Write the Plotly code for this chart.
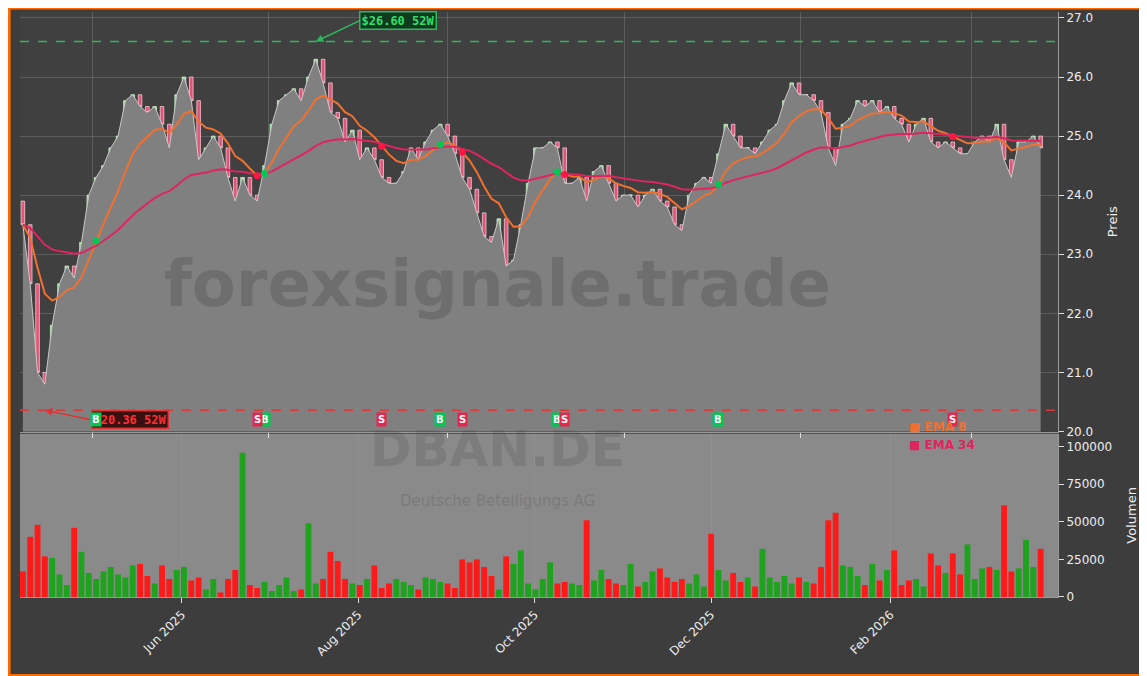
import numpy as np
import pandas as pd
import plotly.graph_objects as go
from plotly.subplots import make_subplots

# --- DATA ---
START, END = "2025-04-07", "2026-03-25"
closes = [23.5, 22.5, 21.0, 20.8, 21.8, 22.5, 22.8, 22.6, 23.2, 24.0, 24.3, 24.5, 24.8, 25.0,
          25.6, 25.7, 25.5, 25.4, 25.5, 25.2, 24.8, 25.7, 26.0, 25.6, 24.6, 24.8, 25.0, 24.8,
          24.3, 23.9, 24.3, 24.0, 23.9, 24.5, 25.2, 25.6, 25.7, 25.8, 25.6, 26.0, 26.3, 25.9,
          25.4, 25.3, 24.9, 25.1, 24.6, 24.8, 24.6, 24.3, 24.2, 24.2, 24.4, 24.8, 24.6, 24.9,
          25.1, 25.2, 25.0, 24.7, 24.3, 24.1, 23.7, 23.3, 23.2, 23.6, 22.8, 22.9, 23.5, 24.2,
          24.8, 24.8, 24.9, 24.8, 24.2, 24.2, 24.3, 23.9, 24.4, 24.5, 24.2, 23.9, 24.0, 24.0,
          23.8, 24.0, 24.1, 23.9, 23.8, 23.5, 23.4, 24.0, 24.2, 24.3, 24.2, 24.7, 25.2, 25.0,
          24.8, 24.8, 24.7, 24.9, 25.1, 25.2, 25.6, 25.9, 25.7, 25.7, 25.6, 25.4, 24.8, 24.5,
          25.2, 25.3, 25.6, 25.5, 25.6, 25.4, 25.5, 25.3, 25.2, 24.9, 25.2, 25.3, 24.9, 24.8,
          24.9, 24.8, 24.7, 24.7, 24.9, 25.0, 24.9, 25.2, 24.6, 24.3, 24.9, 24.9, 25.0, 24.8]
volumes = [17000, 40000, 48000, 27000, 26000, 15000, 8000, 46000, 30000, 16000, 12000, 17000,
           20000, 15000, 13000, 21000, 22000, 14000, 9000, 21000, 12000, 18000, 20000, 11000,
           13000, 5000, 12000, 3000, 12000, 18000, 96000, 8000, 6000, 10000, 4000, 8000,
           13000, 4000, 5000, 49000, 9000, 12000, 30000, 24000, 12000, 9000, 8000, 12000,
           21000, 6000, 9000, 12000, 10000, 8000, 5000, 13000, 12000, 10000, 9000, 6000,
           25000, 23000, 25000, 20000, 14000, 5000, 27000, 22000, 31000, 9000, 5000, 12000,
           23000, 9000, 10000, 9000, 8000, 51000, 11000, 18000, 12000, 9000, 8000, 22000,
           7000, 10000, 17000, 19000, 13000, 10000, 12000, 9000, 15000, 7000, 42000, 18000,
           11000, 16000, 10000, 13000, 7000, 32000, 13000, 10000, 14000, 9000, 13000, 10000,
           9000, 20000, 51000, 56000, 21000, 20000, 14000, 8000, 22000, 11000, 18000, 31000,
           8000, 11000, 12000, 7000, 29000, 21000, 16000, 29000, 15000, 35000, 12000, 19000,
           20000, 18000, 61000, 17000, 19000, 38000, 20000, 32000, 33000, 84000, 21000, 14000,
           16000, 23000, 10000]
volumes = volumes[:len(closes)]
HIGH_52W, LOW_52W = 26.60, 20.36
TITLE, SUBTITLE = "DBAN.DE", "Deutsche Beteiligungs AG"
WATERMARK = "forexsignale.trade"

dates = pd.date_range(START, END, periods=len(closes))
df = pd.DataFrame({"date": dates, "close": closes, "volume": volumes})
df["open"] = df["close"].shift(1).fillna(df["close"].iloc[0] + 0.4)
df["high"] = df[["open", "close"]].max(axis=1)
df["low"] = df[["open", "close"]].min(axis=1)
df["ema8"] = df["close"].ewm(span=8, adjust=False).mean()
df["ema34"] = df["close"].ewm(span=34, adjust=False).mean()
diff = np.sign(df["ema8"] - df["ema34"])
cross = diff.diff().fillna(0)
cross.iloc[:5] = 0  # warm-up period, no signals
buys = df[cross > 0]
sells = df[cross < 0]

GREEN, RED = "#1fa31f", "#ff1a1a"
fig = make_subplots(rows=2, cols=1, shared_xaxes=True, row_heights=[0.72, 0.28],
                    vertical_spacing=0.004)

# volume panel background
fig.add_shape(type="rect", xref="x2 domain", yref="y2 domain", x0=0, x1=1, y0=0, y1=1,
              fillcolor="#8a8a8a", line_width=0, layer="below")

fig.add_trace(go.Scatter(x=df["date"], y=df["close"], fill="tozeroy", mode="lines",
                         line=dict(color="#c8c8c8", width=1), fillcolor="#808080",
                         hoverinfo="skip", showlegend=False), row=1, col=1)
fig.add_trace(go.Candlestick(x=df["date"], open=df["open"], high=df["high"], low=df["low"],
                             close=df["close"], whiskerwidth=0,
                             increasing=dict(line=dict(color="#c8f5c8", width=0.8), fillcolor="#6fd86f"),
                             decreasing=dict(line=dict(color="#f5c8d2", width=0.8), fillcolor="#e0557a"),
                             showlegend=False), row=1, col=1)
fig.add_trace(go.Scatter(x=df["date"], y=df["ema8"], mode="lines", name="EMA 8",
                         line=dict(color="#f07030", width=2), showlegend=False), row=1, col=1)
fig.add_trace(go.Scatter(x=df["date"], y=df["ema34"], mode="lines", name="EMA 34",
                         line=dict(color="#e0245e", width=2), showlegend=False), row=1, col=1)
fig.add_trace(go.Scatter(x=buys["date"], y=buys["ema8"], mode="markers",
                         marker=dict(color="#00c853", size=7), showlegend=False), row=1, col=1)
fig.add_trace(go.Scatter(x=sells["date"], y=sells["ema8"], mode="markers",
                         marker=dict(color="#ff1744", size=7), showlegend=False), row=1, col=1)

vcol = [GREEN if c >= o else RED for c, o in zip(df["close"], df["open"])]
fig.add_trace(go.Bar(x=df["date"], y=df["volume"], marker=dict(color=vcol, line_width=0),
                     showlegend=False), row=2, col=1)

# 52W lines
fig.add_hline(y=HIGH_52W, line=dict(color="#2eb85c", dash="dash", width=1.5), row=1, col=1)
fig.add_hline(y=LOW_52W, line=dict(color="#d43a3a", dash="dash", width=1.5), row=1, col=1)
ih, il = df["close"].idxmax(), df["close"].idxmin()
fig.add_annotation(x=df["date"][ih], y=HIGH_52W, ax=df["date"][ih] + pd.Timedelta(days=15), ay=26.95,
                   axref="x", ayref="y", xref="x", yref="y", text=f"<b>${HIGH_52W:.2f} 52W</b>",
                   showarrow=True, arrowhead=2, arrowcolor="#2eb85c", arrowwidth=1.5,
                   font=dict(color="#2ee06a", size=12, family="DejaVu Sans Mono"),
                   bgcolor="#0f3a1e", bordercolor="#2eb85c", borderwidth=1.5, xanchor="left")
fig.add_annotation(x=df["date"][il], y=LOW_52W, ax=df["date"][il] + pd.Timedelta(days=16), ay=20.2,
                   axref="x", ayref="y", xref="x", yref="y", text=f"<b>${LOW_52W:.2f} 52W</b>",
                   showarrow=True, arrowhead=2, arrowcolor="#e03030", arrowwidth=1.5,
                   font=dict(color="#ff3030", size=12, family="DejaVu Sans Mono"),
                   bgcolor="#3a0f0f", bordercolor="#e03030", borderwidth=1.5, xanchor="left")

for d in buys["date"]:
    fig.add_annotation(x=d, y=20.2, xref="x", yref="y", text="<b>B</b>", showarrow=False,
                       font=dict(color="white", size=10), bgcolor="#00c853", borderpad=1)
for d in sells["date"]:
    fig.add_annotation(x=d, y=20.2, xref="x", yref="y", text="<b>S</b>", showarrow=False,
                       font=dict(color="white", size=10), bgcolor="#e8254f", borderpad=1)

# watermarks
fig.add_annotation(x=0.46, y=0.535, xref="paper", yref="paper", text=f"<b>{WATERMARK}</b>",
                   showarrow=False, font=dict(size=64, color="rgba(70,70,70,0.3)"))
fig.add_annotation(x=0.46, y=0.2, xref="paper", yref="paper", text=f"<b>{TITLE}</b>",
                   showarrow=False, font=dict(size=50, color="rgba(70,70,70,0.2)"))
fig.add_annotation(x=0.46, y=0.145, xref="paper", yref="paper", text=SUBTITLE,
                   showarrow=False, font=dict(size=15, color="rgba(70,70,70,0.25)"))
# legend
fig.add_annotation(x=0.855, y=0.275, xref="paper", yref="paper", text="<b>■ EMA 8</b>",
                   showarrow=False, xanchor="left", font=dict(size=12, color="#f07030"))
fig.add_annotation(x=0.855, y=0.245, xref="paper", yref="paper", text="<b>■ EMA 34</b>",
                   showarrow=False, xanchor="left", font=dict(size=12, color="#e0245e"))

# orange frame
fig.add_shape(type="rect", xref="paper", yref="paper", x0=-0.0105, x1=1.0855, y0=-0.134, y1=1.007,
              line=dict(color="#ff6a00", width=3), fillcolor="rgba(0,0,0,0)")

axis_common = dict(showline=True, linecolor="#9a9a9a", gridcolor="rgba(160,160,160,0.3)",
                   tickcolor="#dddddd", ticks="outside", zeroline=False)
fig.update_xaxes(**axis_common, range=[pd.Timestamp("2025-04-06"), pd.Timestamp("2026-03-31")],
                 rangeslider_visible=False)
fig.update_xaxes(dtick="M2", tick0="2025-06-01", tickformat="%b %Y", tickangle=-45, row=2, col=1)
fig.update_yaxes(**axis_common, side="right", range=[20, 27.1], dtick=1, tickformat=".1f",
                 title=dict(text="Preis", font=dict(size=13)), row=1, col=1)
fig.update_yaxes(**axis_common, side="right", range=[0, 108500], dtick=25000, tickformat="d",
                 showgrid=False, title=dict(text="Volumen", font=dict(size=13)), row=2, col=1)

fig.update_layout(width=1147, height=676, paper_bgcolor="#3d3d3d", plot_bgcolor="#404040",
                  margin=dict(l=12, r=97, t=4, b=87), bargap=0.2,
                  font=dict(family="DejaVu Sans", color="#eeeeee", size=12))
fig.write_html("out.html")
